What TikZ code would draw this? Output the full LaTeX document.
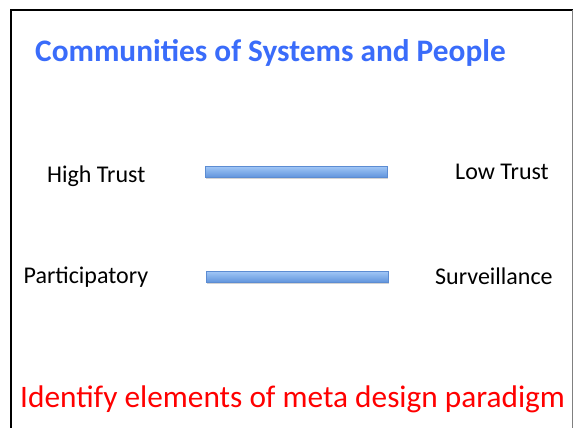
\documentclass[tikz,border=0pt]{standalone}
\usepackage{fontspec}
\setmainfont{Carlito}
\usetikzlibrary{shadows}
\usepackage{xcolor}

\definecolor{titleblue}{RGB}{58,108,250}
\definecolor{barborder}{RGB}{92,140,210}
\definecolor{bartop}{RGB}{160,198,246}
\definecolor{barbottom}{RGB}{96,148,220}

\tikzset{
    trustbar/.style={draw=barborder, line width=0.8pt, top color=bartop, bottom color=barbottom,
        minimum height=11pt, inner sep=0pt, anchor=north west,
        drop shadow={opacity=0.35, shadow xshift=1pt, shadow yshift=-1.5pt}},
    poletext/.style={inner sep=0pt, anchor=base west, font=\fontsize{24}{27}\selectfont}
}

\begin{document}
\begin{tikzpicture}[x=1pt, y=-1pt]

    \useasboundingbox (0,0) rectangle (573,428);

    % frame of the slide
    \draw[line width=2pt] (11,428) -- (11,10) -- (573,10);
    \draw[gray, line width=1pt] (572,10) -- (572,428);

    \node[inner sep=0pt, anchor=base west, text=titleblue, font=\fontsize{31.3}{34}\selectfont\bfseries]
        (title) at (35,61.5) {Communities of Systems and People};

    \def\rows{ High Trust/Low Trust/47/455/182/179.5/205/166/182, Participatory/Surveillance/23.5/435/283.5/284.5/206/271/182}

    % Draw the two scales
    \foreach [count=\i] \lft/\rgt/\xl/\xr/\yl/\yr/\xb/\yb/\wb in \rows {

        \node[poletext] (left\i) at (\xl,\yl) {\lft};
        \node[poletext] (right\i) at (\xr,\yr) {\rgt};
        \node[trustbar, minimum width=\wb pt] (bar\i) at (\xb,\yb) {};

    }

    \node[inner sep=0pt, anchor=base west, text=red, font=\fontsize{31.3}{34}\selectfont]
        (paradigm) at (20,407.5) {Identify elements of meta design paradigm};

\end{tikzpicture}
\end{document}
